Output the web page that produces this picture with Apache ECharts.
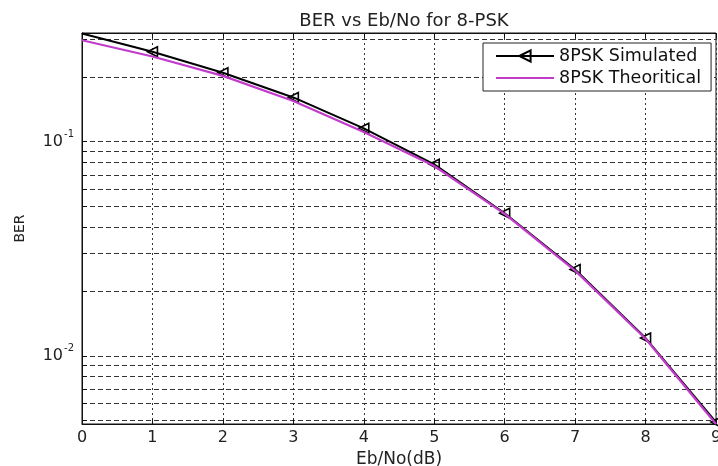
<!DOCTYPE html>
<html>
<head>
<meta charset="utf-8">
<script src="https://cdn.jsdelivr.net/npm/echarts@6/dist/echarts.min.js"></script>
<style>
  html, body { margin: 0; padding: 0; background: #fff; }
  #chart { width: 718px; height: 466px; }
</style>
</head>
<body>
<div id="chart"></div>
<script>
// Eb/No in dB
const ebno = [0, 1, 2, 3, 4, 5, 6, 7, 8, 9];
// Measured bit error rate from the Monte-Carlo run
const berSimulated = [0.320, 0.263, 0.210, 0.161, 0.1155, 0.0784, 0.0463, 0.0253, 0.0121, 0.0049];
// Closed-form bit error rate
const berTheoretical = [0.298, 0.250, 0.203, 0.155, 0.111, 0.0770, 0.0460, 0.0250, 0.0120, 0.0048];
// Log-axis grid lines (1..9 x decade)
const yGridValues = [0.005, 0.006, 0.007, 0.008, 0.009, 0.01, 0.02, 0.03, 0.04, 0.05,
                     0.06, 0.07, 0.08, 0.09, 0.1, 0.2, 0.3];
// Decade labels on the BER axis
const yLabelValues = [0.01, 0.1];
const yRange = [0.0048, 0.322];
const xRange = [0, 9];

const FONT = 'DejaVu Sans';
const MAGENTA = '#c23ccc';

// The marker at the very first point sits on the axis corner and is left off
const simulatedData = ebno.map((x, i) =>
  i === 0 ? { value: [x, berSimulated[i]], symbol: 'none' } : [x, berSimulated[i]]);
const theoreticalData = ebno.map((x, i) => [x, berTheoretical[i]]);

const chart = echarts.init(document.getElementById('chart'), null, { renderer: 'canvas' });

chart.setOption({
  backgroundColor: '#fff',
  animation: false,
  title: {
    text: 'BER vs Eb/No for 8-PSK',
    left: 399,
    textAlign: 'center',
    top: 7,
    textStyle: { fontFamily: FONT, fontSize: 18, fontWeight: 'normal', color: '#222' }
  },
  legend: {
    orient: 'vertical',
    left: 483,
    top: 43,
    padding: [3, 10, 3, 12],
    itemGap: 2,
    itemWidth: 58,
    itemHeight: 14,
    backgroundColor: '#fff',
    borderColor: '#222',
    borderWidth: 1,
    borderRadius: 0,
    textStyle: { fontFamily: FONT, fontSize: 17.5, color: '#111', lineHeight: 20 },
    data: [
      { name: '8PSK Simulated' },
      { name: '8PSK Theoritical', itemStyle: { color: 'rgba(0,0,0,0)', borderWidth: 0 } }
    ]
  },
  grid: {
    left: 82, right: 2, top: 33, bottom: 42,
    show: true,
    backgroundColor: '#fff',
    borderColor: '#111',
    borderWidth: 1,
    outerBoundsMode: 'none'
  },
  xAxis: [{
    type: 'value',
    min: xRange[0], max: xRange[1], interval: 1,
    name: 'Eb/No(dB)',
    nameLocation: 'middle',
    nameGap: 22,
    nameTextStyle: { fontFamily: FONT, fontSize: 17, color: '#222' },
    axisLine: { show: true, lineStyle: { color: '#111', width: 1 } },
    axisTick: { show: true, inside: true, length: 5, lineStyle: { color: '#111' } },
    axisLabel: { margin: 6, fontFamily: FONT, fontSize: 16, color: '#222' },
    splitLine: { show: true, lineStyle: { color: '#333', width: 1, type: [2, 3] } }
  }, {
    type: 'value',
    position: 'top',
    min: xRange[0], max: xRange[1], interval: 1,
    axisLine: { show: true, lineStyle: { color: '#111', width: 1 } },
    axisTick: { show: true, inside: true, length: 5, lineStyle: { color: '#111' } },
    axisLabel: { show: false },
    splitLine: { show: false }
  }],
  yAxis: {
    type: 'log',
    logBase: 10,
    min: yRange[0], max: yRange[1],
    name: 'BER',
    nameLocation: 'middle',
    nameGap: 55,
    nameTextStyle: { fontFamily: FONT, fontSize: 14, color: '#222' },
    axisLine: { show: true, lineStyle: { color: '#111', width: 1 } },
    axisTick: { show: true, inside: true, length: 5, customValues: yGridValues, lineStyle: { color: '#111' } },
    axisLabel: {
      customValues: yLabelValues,
      margin: 8,
      fontFamily: FONT,
      color: '#222',
      formatter: (v) => '{b|10}{s|' + Math.round(Math.log10(v)) + '}',
      rich: {
        b: { fontFamily: FONT, fontSize: 16, color: '#222' },
        s: { fontFamily: FONT, fontSize: 10, color: '#222', padding: [0, 0, 14, 1] }
      }
    },
    splitLine: { show: true, lineStyle: { color: '#333', width: 1, type: [5, 3] } }
  },
  series: [{
    name: '8PSK Simulated',
    type: 'line',
    data: simulatedData,
    symbol: 'triangle',
    symbolSize: 10,
    symbolRotate: 90,
    lineStyle: { color: '#000', width: 2 },
    itemStyle: { color: 'rgba(0,0,0,0)', borderColor: '#000', borderWidth: 1.6 },
    z: 2
  }, {
    name: '8PSK Theoritical',
    type: 'line',
    data: theoreticalData,
    symbol: 'none',
    lineStyle: { color: MAGENTA, width: 2.2 },
    itemStyle: { color: MAGENTA },
    z: 3
  }]
});
</script>
</body>
</html>
